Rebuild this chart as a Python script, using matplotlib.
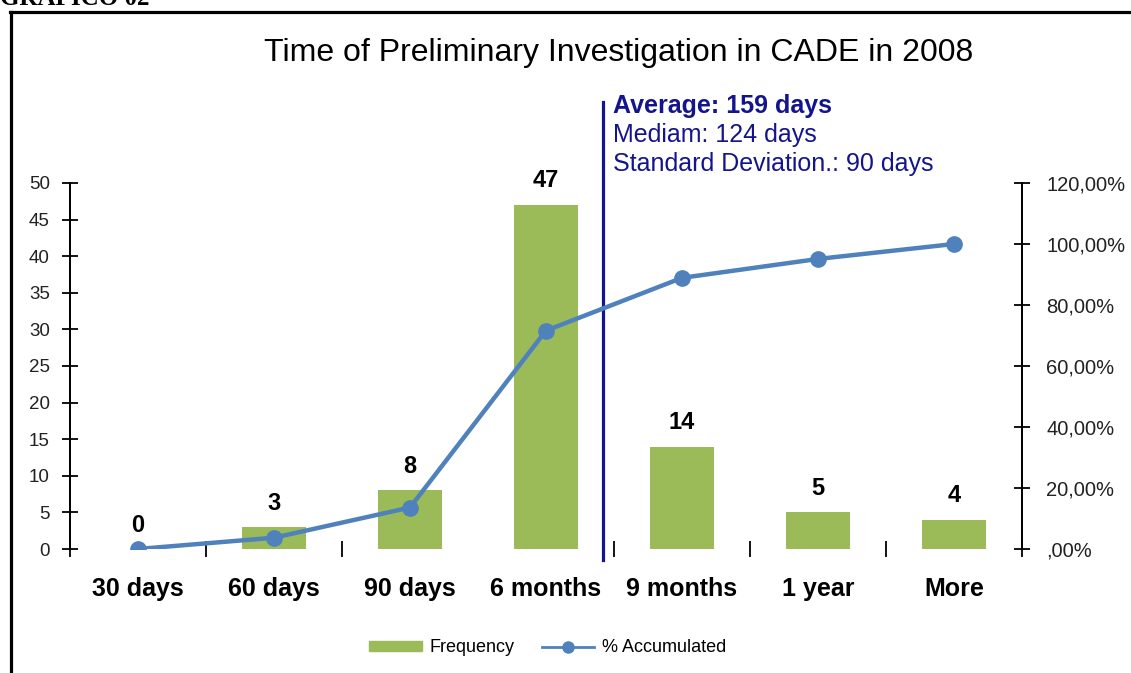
import matplotlib
matplotlib.use('Agg')

import matplotlib.pyplot as plt
from matplotlib.lines import Line2D
from matplotlib.ticker import FixedLocator, FuncFormatter

plt.rcParams['font.family'] = ['Liberation Sans', 'DejaVu Sans']

# data
categories = ['30 days', '60 days', '90 days', '6 months', '9 months', '1 year', 'More']
frequency = [0, 3, 8, 47, 14, 5, 4]
accumulated = [0.0, 0.037, 0.136, 0.716, 0.889, 0.951, 1.0]
stats_lines = ['Average: 159 days', 'Mediam: 124 days', 'Standard Deviation.: 90 days']
stats_position = 3.42   # where the navy marker line sits on the category axis
boundary_ticks = [-0.5, 0.5, 1.5, 3.5, 4.5, 5.5, 6.5]

BAR_GREEN = '#9BBB59'
LINE_BLUE = '#4F81BD'
NAVY = '#14148C'

W, H = 1131, 673


def main():
    fig = plt.figure(figsize=(W / 100, H / 100), dpi=100)
    fig.patch.set_facecolor('white')

    left, right, bottom, top = 70 / W, 1022 / W, 1 - 549 / H, 1 - 183 / H
    ax = fig.add_axes([left, bottom, right - left, top - bottom])
    ax2 = ax.twinx()

    x = list(range(len(categories)))

    # bars for the frequency
    ax.bar(x, frequency, width=0.47, color=BAR_GREEN, zorder=2)
    for xi, v in zip(x, frequency):
        ax.annotate(str(v), (xi, v), xytext=(0, 9), textcoords='offset points',
                    ha='center', va='bottom', fontsize=17, fontweight='bold')

    ax.set_xlim(-0.5, len(categories) - 0.5)
    ax.set_ylim(0, 50)
    ax.set_yticks(range(0, 51, 5))
    ax.set_xticks(x)
    ax.set_xticklabels(categories, fontsize=18, fontweight='bold')
    ax.tick_params(axis='x', which='major', length=0, pad=20)
    ax.xaxis.set_minor_locator(FixedLocator(boundary_ticks))
    ax.tick_params(axis='x', which='minor', direction='inout', length=11, width=1.3)
    ax.tick_params(axis='y', direction='inout', length=11, width=1.3, pad=9,
                   labelsize=13.5, labelcolor='#222222')

    # cumulative percentage line on the right axis
    ax2.plot(x, accumulated, color=LINE_BLUE, lw=3.2, marker='o', ms=11, zorder=3)
    ax2.set_ylim(0, 1.2)
    ax2.set_yticks([0, 0.2, 0.4, 0.6, 0.8, 1.0, 1.2])
    ax2.yaxis.set_major_formatter(FuncFormatter(
        lambda v, p: ',00%' if v == 0 else f'{v * 100:.2f}%'.replace('.', ',')))
    ax2.tick_params(axis='y', direction='inout', length=11, width=1.3, pad=12,
                    labelsize=14.5, labelcolor='#222222')

    for a in (ax, ax2):
        a.spines['top'].set_visible(False)
        a.spines['bottom'].set_visible(False)
        a.spines['left'].set_linewidth(1.3)
        a.spines['right'].set_linewidth(1.3)
        a.set_facecolor('none')

    # navy line with the summary statistics
    ax.axvline(stats_position, ymin=-0.03, ymax=1.222, color=NAVY, lw=2.3,
               clip_on=False, zorder=4)
    for i, line in enumerate(stats_lines):
        fig.text(613 / W, 1 - (106 + 29 * i) / H, line, color=NAVY, fontsize=18,
                 fontweight='bold' if i == 0 else 'normal', va='center', ha='left')

    fig.text(619 / W, 1 - 53 / H, 'Time of Preliminary Investigation in CADE in 2008',
             fontsize=23, ha='center', va='center')

    # legend
    handles = [plt.Rectangle((0, 0), 1, 1, color=BAR_GREEN),
               Line2D([0], [0], color=LINE_BLUE, lw=2, marker='o', ms=8)]
    fig.legend(handles, ['Frequency', '% Accumulated'], loc='center',
               bbox_to_anchor=(548 / W, 1 - 648 / H), ncol=2, frameon=False,
               fontsize=13, handlelength=2.9, handleheight=0.5, handletextpad=0.45,
               columnspacing=1.5)

    # page frame and the cut-off caption above it
    fig.add_artist(Line2D([10.5 / W, 10.5 / W], [0, 1 - 12 / H], color='black', lw=2.3))
    fig.add_artist(Line2D([10 / W, 1], [1 - 12 / H, 1 - 12 / H], color='black', lw=2.3))
    fig.text(0.0, 1 - 5 / H, 'GRAFICO 02', family='Liberation Serif', fontweight='bold',
             fontsize=18, va='baseline', ha='left')

    fig.savefig('out.png', dpi=100, facecolor='white')


if __name__ == "__main__":
    main()
